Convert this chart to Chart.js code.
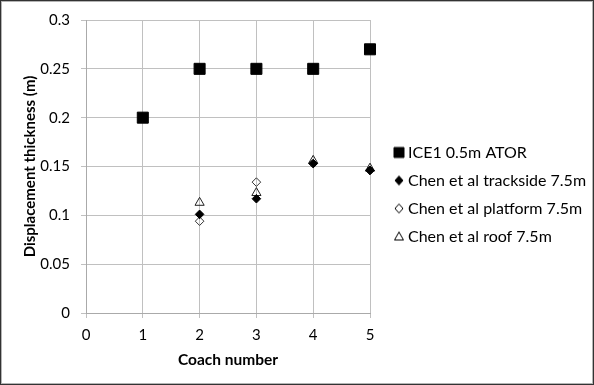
<!DOCTYPE html>
<html>
<head>
<meta charset="utf-8">
<script src="https://cdn.jsdelivr.net/npm/chart.js@4.4.1/dist/chart.umd.min.js"></script>
<style>
html, body { margin: 0; padding: 0; background: #fff; }
#wrap { position: relative; width: 594px; height: 385px; }
#marco { position: absolute; left: 0; top: 0; width: 594px; height: 385px; box-sizing: border-box;
  border: 1px solid #333; box-shadow: inset 0 0 0 1px #b4b4b4; pointer-events: none; }
</style>
</head>
<body>
<div id="wrap"><canvas id="myChart" width="594" height="385"></canvas><div id="marco"></div></div>
<script>
// datos
var coaches = [1, 2, 3, 4, 5];
var ice1 = [0.2, 0.25, 0.25, 0.25, 0.27];
var chenCoaches = [2, 3, 4, 5];
var trackside = [0.101, 0.117, 0.153, 0.146];
var platform = [0.094, 0.134, 0.153, 0.146];
var roof = [0.113, 0.123, 0.156, 0.148];
var xTicks = ['0', '1', '2', '3', '4', '5'];
var yTicks = ['0', '0.05', '0.1', '0.15', '0.2', '0.25', '0.3'];
var nombres = ['ICE1 0.5m ATOR', 'Chen et al trackside 7.5m', 'Chen et al platform 7.5m', 'Chen et al roof 7.5m'];

function puntos(xs, ys) {
  var arr = [];
  for (var i = 0; i < ys.length; i++) {
    arr.push({x: xs[i], y: ys[i]});
  }
  return arr;
}

// iconos de la leyenda (el marcador va corrido a la derecha del centro)
function icono(forma, relleno) {
  var c = document.createElement('canvas');
  c.width = 34; c.height = 16;
  var g = c.getContext('2d');
  var cx = 25, cy = 8;
  g.strokeStyle = '#000';
  g.fillStyle = '#000';
  g.lineWidth = 1;
  g.beginPath();
  if (forma == 'cuadrado') {
    g.rect(cx - 5, cy - 5, 10, 10);
  } else if (forma == 'rombo') {
    g.moveTo(cx, cy - 4.5); g.lineTo(cx + 4, cy); g.lineTo(cx, cy + 4.5); g.lineTo(cx - 4, cy);
    g.closePath();
  } else {
    g.moveTo(cx, cy - 4.5); g.lineTo(cx + 4.5, cy + 3.5); g.lineTo(cx - 4.5, cy + 3.5);
    g.closePath();
  }
  if (relleno) g.fill();
  g.stroke();
  return c;
}
var iconos = [icono('cuadrado', true), icono('rombo', true), icono('rombo', false), icono('triangulo', false)];

var fuente = 'Lato';

var ajusteLeyenda = {
  id: 'ajusteLeyenda',
  beforeLayout: function(chart) {
    var leg = chart.legend;
    if (leg && !leg._parcheado) {
      var fitOrig = leg.fit;
      leg.fit = function() { fitOrig.call(this); this.width = 224; };
      leg._parcheado = true;
    }
  },
  afterLayout: function(chart) {
    var leg = chart.legend;
    leg.top = 0;
    leg.bottom = 389;
  }
};

var ctx = document.getElementById('myChart').getContext('2d');
var myChart = new Chart(ctx, {
  type: 'scatter',
  data: {
    datasets: [{
      label: nombres[0],
      data: puntos(coaches, ice1),
      pointStyle: 'rect',
      pointRadius: 7.8,
      backgroundColor: '#000',
      borderColor: '#000',
      borderWidth: 1
    }, {
      label: nombres[1],
      data: puntos(chenCoaches, trackside),
      pointStyle: 'rectRot',
      pointRadius: 4.3,
      backgroundColor: '#000',
      borderColor: '#000',
      borderWidth: 1
    }, {
      label: nombres[2],
      data: puntos(chenCoaches, platform),
      pointStyle: 'rectRot',
      pointRadius: 4.3,
      backgroundColor: 'rgba(0,0,0,0)',
      borderColor: '#333',
      borderWidth: 1
    }, {
      label: nombres[3],
      data: puntos(chenCoaches, roof),
      pointStyle: 'triangle',
      pointRadius: 5.3,
      backgroundColor: 'rgba(0,0,0,0)',
      borderColor: '#222',
      borderWidth: 1
    }]
  },
  options: {
    responsive: false,
    animation: false,
    devicePixelRatio: 1,
    clip: false,
    layout: { padding: { top: 19, left: 0, right: 0, bottom: 0 } },
    plugins: {
      tooltip: { enabled: false },
      legend: {
        position: 'right',
        align: 'center',
        labels: {
          color: '#000',
          font: { family: fuente, size: 16 },
          padding: 12,
          usePointStyle: true,
          pointStyleWidth: 18,
          generateLabels: function(chart) {
            var items = Chart.defaults.plugins.legend.labels.generateLabels(chart);
            items.forEach(function(it) { it.pointStyle = iconos[it.datasetIndex]; });
            return items;
          }
        }
      }
    },
    scales: {
      x: {
        type: 'linear',
        min: 0,
        max: 5,
        ticks: {
          stepSize: 1,
          padding: 8,
          color: '#000',
          font: { family: fuente, size: 15 },
          callback: function(v, i) { return xTicks[i]; }
        },
        grid: { color: '#c0c0c0', tickLength: 5 },
        border: { color: '#aaaaaa' },
        title: {
          display: true,
          text: 'Coach number',
          color: '#000',
          font: { family: fuente, size: 15.5, weight: 'bold' },
          padding: { top: 0, bottom: 16 }
        },
        afterFit: function(s) { s.height = 72; }
      },
      y: {
        min: 0,
        max: 0.3,
        ticks: {
          stepSize: 0.05,
          padding: 11,
          color: '#000',
          font: { family: fuente, size: 15 },
          callback: function(v, i) { return yTicks[i]; }
        },
        grid: { color: '#c0c0c0', tickLength: 5 },
        border: { color: '#aaaaaa' },
        title: {
          display: true,
          text: 'Displacement thickness (m)',
          color: '#000',
          font: { family: fuente, size: 15, weight: 'bold' },
          padding: { top: 21, bottom: 0 }
        },
        afterFit: function(s) { s.width = 86; }
      }
    }
  },
  plugins: [ajusteLeyenda]
});
</script>
</body>
</html>
